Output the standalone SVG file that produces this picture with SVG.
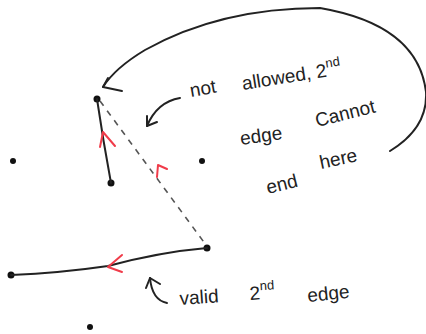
<svg xmlns="http://www.w3.org/2000/svg" width="426" height="334" viewBox="0 0 426 334">
<style>
.dot{fill:#111}
.ln{fill:none;stroke:#222;stroke-width:2;stroke-linecap:round;stroke-linejoin:round}
.ds{fill:none;stroke:#555;stroke-width:1.6;stroke-dasharray:6 6}
.rd{fill:none;stroke:#f03c4a;stroke-width:2;stroke-linecap:round;stroke-linejoin:round}
.tx{font-family:"Liberation Sans",Arial,sans-serif;font-size:19px;fill:#222}
.sup{font-size:13px}
</style>
<rect width="426" height="334" fill="#fff"/>
<g id="nodes">
<g id="nA"><circle class="dot" cx="97" cy="99" r="3.5"/></g>
<g id="nB"><circle class="dot" cx="111" cy="183" r="3.5"/></g>
<g id="nL"><circle class="dot" cx="13" cy="161" r="3"/></g>
<g id="nM"><circle class="dot" cx="202" cy="161" r="3"/></g>
<g id="nC"><circle class="dot" cx="207" cy="248" r="3.5"/></g>
<g id="nD"><circle class="dot" cx="11" cy="275" r="3.5"/></g>
<g id="nE"><circle class="dot" cx="90" cy="327" r="3"/></g>
</g>
<g id="connectors">
<path class="ln" d="M97 99 Q103 140 111 183"/>
<path class="ds" d="M100 101 L206 245"/>
<path class="ln" d="M207 248 Q160 252 108 266 Q60 273 11 275"/>
<path class="rd" d="M100 147 L103 132 L115 146"/>
<path class="rd" d="M157 177 L158 165 L167 169"/>
<path class="rd" d="M122 255 L108 267 L122 272"/>
<path class="ln" d="M390 151 Q428 128 426 92 Q418 25 320 8 Q220 8 145 50 Q115 68 103 87"/>
<path class="ln" d="M108 78 L103 87 L122 91"/>
<path class="ln" d="M180 98 Q157 102 147 126"/>
<path class="ln" d="M147 116 L147 126 L157 122"/>
<path class="ln" d="M167 303 Q152 300 150 278"/>
<path class="ln" d="M146 288 L150 278 L160 284"/>
</g>
<g id="labels">
<text class="tx" transform="translate(191 97) rotate(-10)">not</text>
<text class="tx" transform="translate(243 90) rotate(-9)">allowed, 2<tspan class="sup" dy="-9">nd</tspan></text>
<text class="tx" transform="translate(241 145) rotate(-8)">edge</text>
<text class="tx" transform="translate(317 127) rotate(-14)">Cannot</text>
<text class="tx" transform="translate(268 194) rotate(-14)">end</text>
<text class="tx" transform="translate(321 169) rotate(-12)">here</text>
<text class="tx" transform="translate(180 305) rotate(-4)">valid</text>
<text class="tx" transform="translate(250 300) rotate(-4)">2<tspan class="sup" dy="-9">nd</tspan></text>
<text class="tx" transform="translate(308 302) rotate(-6)">edge</text>
</g>
</svg>
